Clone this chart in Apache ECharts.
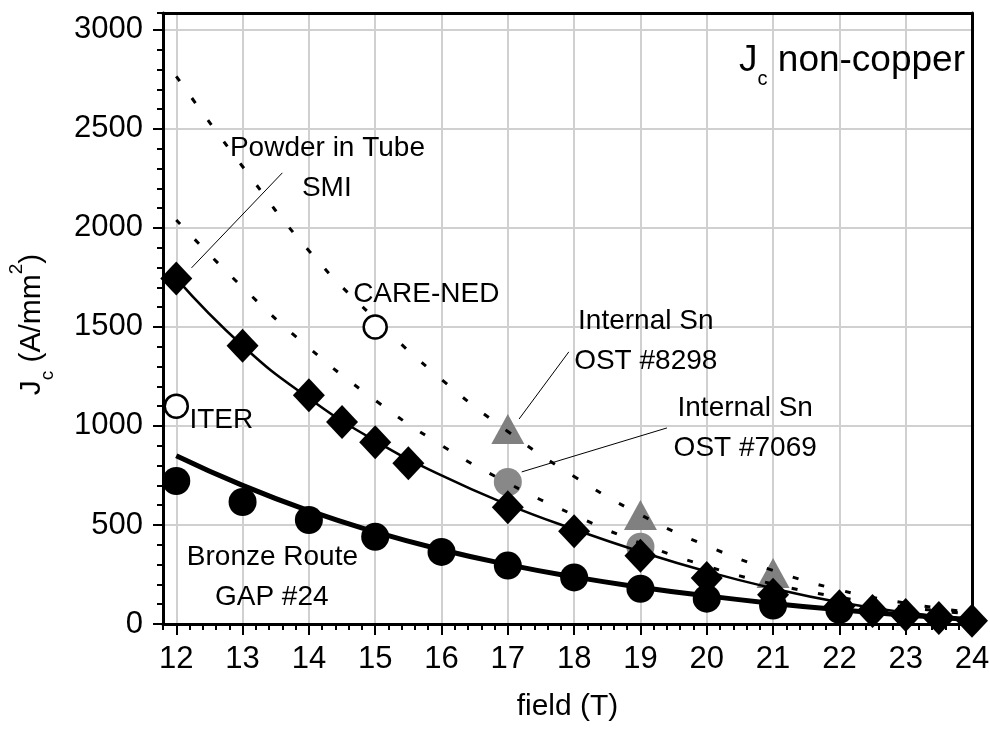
<!DOCTYPE html>
<html>
<head>
<meta charset="utf-8">
<script src="https://cdn.jsdelivr.net/npm/echarts@6/dist/echarts.min.js"></script>
<style>
  html, body { margin: 0; padding: 0; background: #ffffff; }
  #chart { width: 990px; height: 731px; }
</style>
</head>
<body>
<div id="chart"></div>
<script>
const FONT = '"Liberation Sans", Arial, Helvetica, sans-serif';

// Powder in Tube, SMI (black diamonds)
const pitField = [12, 13, 14, 14.5, 15, 15.5, 17, 18, 19, 20, 21, 22, 22.5, 23, 23.5, 24];
const pitJc    = [1745, 1405, 1155, 1020, 918, 812, 590, 468, 345, 232, 148, 90, 66, 45, 30, 16];

// Bronze Route, GAP #24 (black dots)
const bronzeField = [12, 13, 14, 15, 16, 17, 18, 19, 20, 21, 22];
const bronzeJc    = [722, 616, 525, 440, 364, 295, 235, 178, 128, 93, 72];

// Internal Sn, OST #8298 (grey triangles) and OST #7069 (grey dots)
const ost8298Field = [17, 19, 21];
const ost8298Jc    = [985, 550, 258];
const ost7069Field = [17, 19];
const ost7069Jc    = [717, 390];

// Target values (open circles)
const targetField = [12, 15];
const targetJc    = [1100, 1500];

// Fitted curves, sampled at whole tesla
const fitField  = [12, 13, 14, 15, 16, 17, 18, 19, 20, 21, 22, 23, 24];
const fitPit    = [1745, 1405, 1140, 925, 750, 603, 478, 365, 265, 180, 110, 58, 22];
const fitBronze = [850, 700, 572, 465, 375, 300, 238, 186, 142, 104, 72, 45, 22];
const fit8298   = [2765, 2310, 1885, 1540, 1235, 972, 745, 552, 395, 270, 172, 105, 58];
const fit7069   = [2040, 1700, 1395, 1130, 902, 712, 550, 408, 292, 202, 135, 85, 50];

// Axis tick labels
const xTicks = [12, 13, 14, 15, 16, 17, 18, 19, 20, 21, 22, 23, 24];
const yTicks = [0, 500, 1000, 1500, 2000, 2500, 3000];

// Annotation texts and where they sit (field, Jc)
const noteText = ['Powder in Tube', 'SMI', 'CARE-NED', 'ITER', 'Internal Sn', 'OST #8298',
                  'Internal Sn', 'OST #7069', 'Bronze Route', 'GAP #24'];
const noteField = [14.28, 14.27, 15.77, 12.68, 19.08, 19.08, 20.58, 20.58, 13.45, 13.44];
const noteJc    = [2404, 2202, 1667, 1030, 1530, 1328, 1091, 889, 338, 136];

// Leader lines from labels to their data: [field1, Jc1, field2, Jc2]
const leaders = [
  [12.23, 1798, 13.60, 2278],
  [17.17, 1035, 17.92, 1374],
  [17.21, 768, 19.40, 990]
];

const zip = (xs, ys) => xs.map((x, i) => [x, ys[i]]);
const plain = v => String(Math.round(v));

const X_MIN = 11.8, X_MAX = 24, Y_MIN = 0, Y_MAX = 3085;

const fitLine = (data, style, z) => ({
  type: 'line', data, symbol: 'none', smooth: 0.5,
  lineStyle: style, z, silent: true, xAxisIndex: 0, yAxisIndex: 0
});

const chart = echarts.init(document.getElementById('chart'), null, { renderer: 'canvas' });

chart.setOption({
  animation: false,
  backgroundColor: '#ffffff',
  textStyle: { fontFamily: FONT, color: '#000' },
  title: {
    text: '{t|J}{s|c}{t| non-copper}',
    right: 20, top: 28,
    textStyle: {
      fontFamily: FONT, color: '#000', fontWeight: 'normal',
      rich: {
        t: { fontSize: 37, fontFamily: FONT, color: '#000', fontWeight: 'normal', lineHeight: 56 },
        s: { fontSize: 20, fontFamily: FONT, color: '#000', fontWeight: 'normal', lineHeight: 20, verticalAlign: 'bottom' }
      }
    }
  },
  grid: { left: 163, right: 18, top: 13, bottom: 107, containLabel: false, outerBoundsMode: 'none' },
  xAxis: [
    {
      type: 'value', min: X_MIN, max: X_MAX, position: 'bottom',
      axisLine: { show: true, onZero: false, lineStyle: { color: '#000', width: 3 } },
      axisTick: { show: true, inside: false, customValues: xTicks, length: 11, lineStyle: { color: '#000', width: 2 } },
      axisLabel: { customValues: xTicks, formatter: plain, fontSize: 31, color: '#000', margin: 20, fontFamily: FONT },
      splitLine: { show: true, lineStyle: { color: '#d0d0d0', width: 2 } },
      name: 'field (T)', nameLocation: 'middle', nameGap: 68,
      nameTextStyle: { fontSize: 30, color: '#000', fontFamily: FONT }
    },
    {
      type: 'value', min: X_MIN, max: X_MAX, interval: 0.2, position: 'bottom',
      axisLine: { show: false, onZero: false },
      axisTick: { show: true, inside: false, length: 6, lineStyle: { color: '#000', width: 2 } },
      axisLabel: { show: false }, splitLine: { show: false }
    },
    {
      type: 'value', min: X_MIN, max: X_MAX, position: 'top',
      axisLine: { show: true, onZero: false, lineStyle: { color: '#000', width: 3 } },
      axisTick: { show: false }, axisLabel: { show: false }, splitLine: { show: false }
    }
  ],
  yAxis: [
    {
      type: 'value', min: Y_MIN, max: Y_MAX, position: 'left',
      axisLine: { show: true, onZero: false, lineStyle: { color: '#000', width: 3 } },
      axisTick: { show: true, inside: false, customValues: yTicks, length: 10, lineStyle: { color: '#000', width: 2 } },
      axisLabel: { customValues: yTicks, formatter: plain, fontSize: 31, color: '#000', margin: 20, fontFamily: FONT },
      splitLine: { show: true, lineStyle: { color: '#d0d0d0', width: 2 } },
      name: '{t|J}{s|c}{t| (A/mm}{p|2}{t|)}', nameLocation: 'middle', nameGap: 106, nameRotate: 90,
      nameTextStyle: {
        fontFamily: FONT, color: '#000', padding: [0, 12, 0, 0],
        rich: {
          t: { fontSize: 30, fontFamily: FONT, color: '#000', lineHeight: 50 },
          s: { fontSize: 19, fontFamily: FONT, color: '#000', lineHeight: 19, verticalAlign: 'bottom' },
          p: { fontSize: 19, fontFamily: FONT, color: '#000', lineHeight: 19, verticalAlign: 'top' }
        }
      }
    },
    {
      type: 'value', min: Y_MIN, max: Y_MAX, interval: 100, position: 'left',
      axisLine: { show: false, onZero: false },
      axisTick: { show: true, inside: false, length: 6, lineStyle: { color: '#000', width: 2 } },
      axisLabel: { show: false }, splitLine: { show: false }
    },
    {
      type: 'value', min: Y_MIN, max: Y_MAX, position: 'right',
      axisLine: { show: true, onZero: false, lineStyle: { color: '#000', width: 3 } },
      axisTick: { show: false }, axisLabel: { show: false }, splitLine: { show: false }
    }
  ],
  series: [
    {
      name: 'Internal Sn OST #8298', type: 'scatter', data: zip(ost8298Field, ost8298Jc),
      symbol: 'triangle', symbolSize: [33, 30], itemStyle: { color: '#808080', opacity: 1 }, z: 2
    },
    {
      name: 'Internal Sn OST #7069', type: 'scatter', data: zip(ost7069Field, ost7069Jc),
      symbol: 'circle', symbolSize: 28, itemStyle: { color: '#888888', opacity: 1 }, z: 2
    },
    fitLine(zip(fitField, fit8298), { color: '#000', width: 3, type: [6, 21], cap: 'butt' }, 3),
    fitLine(zip(fitField, fit7069), { color: '#000', width: 3, type: [6, 21], cap: 'butt' }, 3),
    fitLine(zip(fitField, fitPit), { color: '#000', width: 2.5 }, 4),
    fitLine(zip(fitField, fitBronze), { color: '#000', width: 5 }, 4),
    {
      name: 'Powder in Tube SMI', type: 'scatter', data: zip(pitField, pitJc),
      symbol: 'diamond', symbolSize: [32, 34], itemStyle: { color: '#000', opacity: 1 }, z: 5
    },
    {
      name: 'Bronze Route GAP #24', type: 'scatter', data: zip(bronzeField, bronzeJc),
      symbol: 'circle', symbolSize: 28, itemStyle: { color: '#000', opacity: 1 }, z: 5
    },
    {
      name: 'targets', type: 'scatter', data: zip(targetField, targetJc),
      symbol: 'circle', symbolSize: 23,
      itemStyle: { color: '#ffffff', borderColor: '#000', borderWidth: 2.5, opacity: 1 }, z: 5
    },
    {
      name: 'notes', type: 'scatter', symbolSize: 0, silent: true, z: 6,
      data: noteText.map((t, i) => ({ name: t, value: [noteField[i], noteJc[i]] })),
      label: {
        show: true, position: 'inside', formatter: '{b}',
        fontSize: 28, color: '#000', fontFamily: FONT, opacity: 1
      },
      itemStyle: { color: '#000', opacity: 1 },
      markLine: {
        silent: true, symbol: ['none', 'none'], label: { show: false },
        lineStyle: { color: '#000', width: 1, type: 'solid', opacity: 1 },
        data: leaders.map(l => [{ coord: [l[0], l[1]] }, { coord: [l[2], l[3]] }])
      }
    }
  ]
});
</script>
</body>
</html>
